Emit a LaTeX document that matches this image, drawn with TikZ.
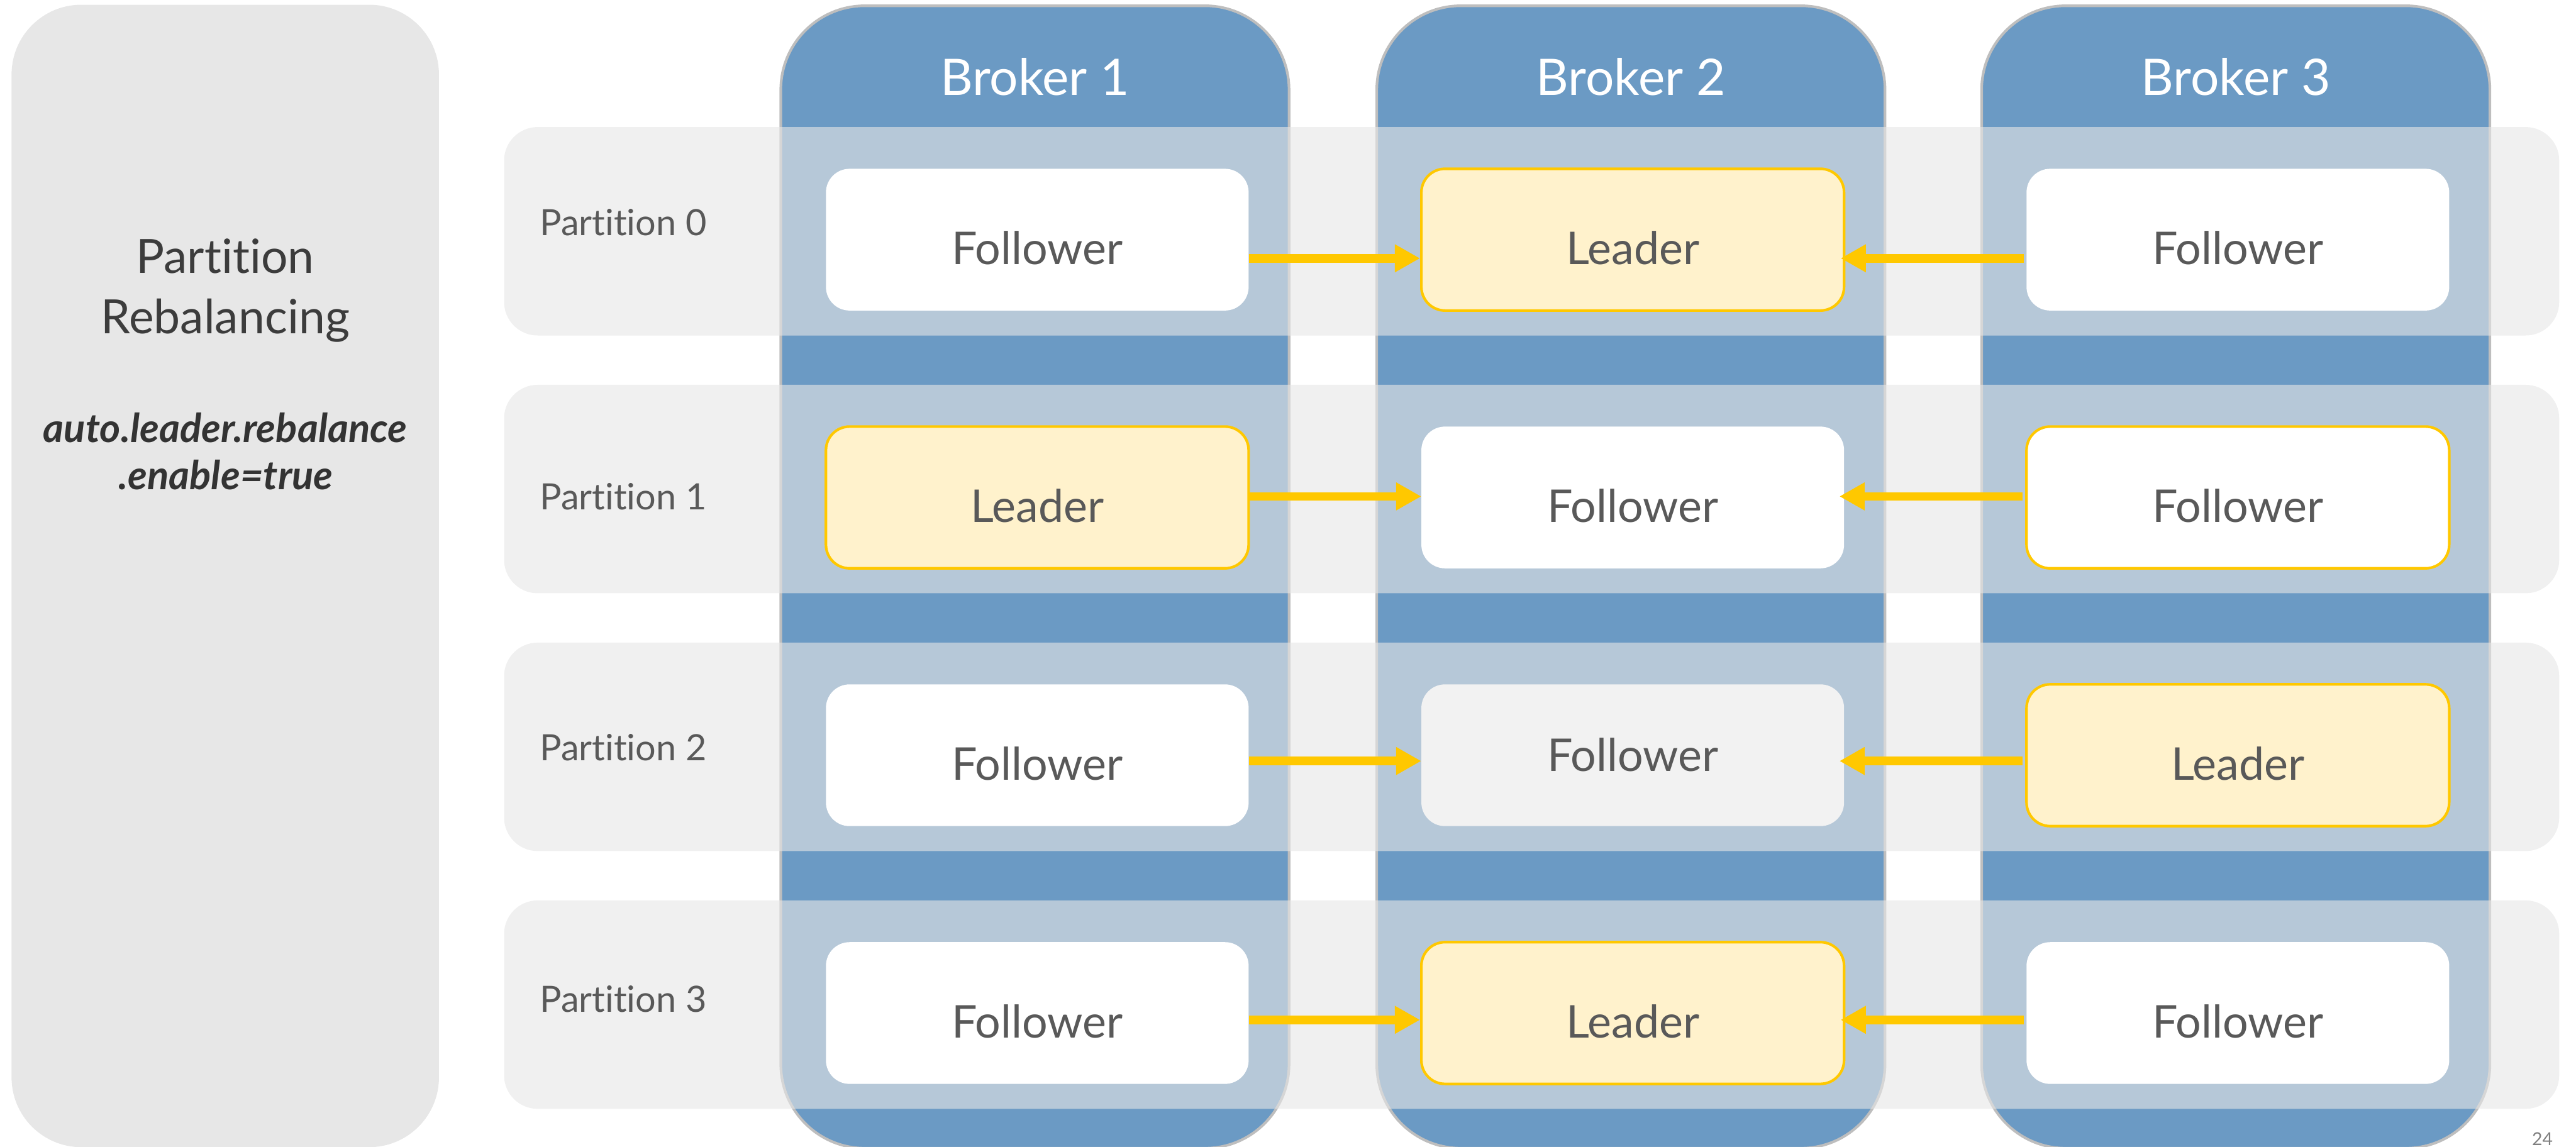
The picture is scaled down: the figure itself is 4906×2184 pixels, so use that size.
\documentclass[tikz,border=0pt]{standalone}
\usepackage{fontspec}
\setmainfont{Lato}[Ligatures={NoCommon,NoContextual}]
\usetikzlibrary{arrows.meta}

\definecolor{brokerblue}{RGB}{107,154,196}
\definecolor{brokerborder}{RGB}{190,190,190}
\definecolor{bandgray}{RGB}{230,230,230}
\definecolor{panelgray}{RGB}{231,231,231}
\definecolor{cellgray}{RGB}{242,242,242}
\definecolor{leaderfill}{RGB}{255,242,204}
\definecolor{gold}{RGB}{255,200,0}
\definecolor{textgray}{RGB}{89,89,89}
\definecolor{titlegray}{RGB}{60,60,60}
\definecolor{settinggray}{RGB}{51,51,51}
\definecolor{pagegray}{RGB}{127,127,127}

\begin{document}
\begin{tikzpicture}[x=1pt,y=-1pt,
  panel/.style={fill=panelgray, rounded corners=133pt, inner sep=0pt,
    minimum width=814pt, minimum height=2176pt},
  broker/.style={draw=brokerborder, line width=5pt, fill=brokerblue,
    rounded corners=160pt, inner sep=0pt, minimum width=968pt, minimum height=2176pt},
  band/.style={fill=bandgray, fill opacity=0.61, rounded corners=64pt, inner sep=0pt,
    minimum width=3914pt, minimum height=397pt},
  cell/.style={fill=white, rounded corners=45pt, inner sep=0pt,
    minimum width=805pt, minimum height=270pt},
  leadercell/.style={cell, fill=leaderfill, draw=gold, line width=5pt},
  ringcell/.style={cell, draw=gold, line width=5pt},
  quietcell/.style={cell, fill=cellgray},
  flow/.style={draw=gold, line width=16.5pt, -{Triangle[length=48pt,width=50pt]}},
  celltext/.style={anchor=base, inner sep=0pt, text=textgray,
    font=\fontsize{86}{100}\selectfont},
  brokertitle/.style={anchor=base, inner sep=0pt, text=white,
    font=\fontsize{96}{110}\selectfont},
  partlabel/.style={anchor=base west, inner sep=0pt, text=textgray,
    font=\fontsize{69}{80}\selectfont},
  paneltitle/.style={anchor=base, inner sep=0pt, text=titlegray,
    font=\fontsize{90}{100}\selectfont},
  setting/.style={anchor=base, inner sep=0pt, text=settinggray,
    font=\fontsize{76}{86}\selectfont\bfseries\itshape},
]
\useasboundingbox (0,0) rectangle (4906,2184);

% left side panel
\node[panel] (panel) at (429,1097) {};
\node[paneltitle] (pt1) at (429,521) {Partition};
\node[paneltitle] (pt2) at (429,635) {Rebalancing};
\node[setting] (st1) at (429,843) {auto.leader.rebalance};
\node[setting] (st2) at (430,932) {.enable=true};

% broker columns
\node[broker] (br1) at (1971,1099) {};
\node[broker] (br2) at (3106,1099) {};
\node[broker] (br3) at (4258,1099) {};
\node[brokertitle] (bt1) at (1971,182) {Broker 1};
\node[brokertitle] (bt2) at (3106,182) {Broker 2};
\node[brokertitle] (bt3) at (4258,182) {Broker 3};

% partition bands
\foreach \r in {0,1,2,3}
  \node[band] (band\r) at (2917,440.5+491*\r) {};

\node[partlabel] (pl0) at (1028,448) {Partition 0};
\node[partlabel] (pl1) at (1028,971) {Partition 1};
\node[partlabel] (pl2) at (1028,1449) {Partition 2};
\node[partlabel] (pl3) at (1028,1928) {Partition 3};

% replicas: c<broker><partition>
\node[cell]       (c10) at (1975.5,456.5) {};
\node[leadercell] (c20) at (3109.5,456.5) {};
\node[cell]       (c30) at (4262,456.5) {};

\node[leadercell] (c11) at (1975.5,947.5) {};
\node[cell]       (c21) at (3109.5,947.5) {};
\node[ringcell]   (c31) at (4262,947.5) {};

\node[cell]       (c12) at (1975.5,1438.5) {};
\node[quietcell]  (c22) at (3109.5,1438.5) {};
\node[leadercell] (c32) at (4262,1438.5) {};

\node[cell]       (c13) at (1975.5,1929.5) {};
\node[leadercell] (c23) at (3109.5,1929.5) {};
\node[cell]       (c33) at (4262,1929.5) {};

% replica labels
\node[celltext] (t10) at ([yshift=-47pt]c10.center) {Follower};
\node[celltext] (t20) at ([yshift=-47pt]c20.center) {Leader};
\node[celltext] (t30) at ([yshift=-47pt]c30.center) {Follower};
\node[celltext] (t11) at ([yshift=-47pt]c11.center) {Leader};
\node[celltext] (t21) at ([yshift=-47pt]c21.center) {Follower};
\node[celltext] (t31) at ([yshift=-47pt]c31.center) {Follower};
\node[celltext] (t12) at ([yshift=-47pt]c12.center) {Follower};
\node[celltext] (t22) at ([yshift=-31pt]c22.center) {Follower};
\node[celltext] (t32) at ([yshift=-47pt]c32.center) {Leader};
\node[celltext] (t13) at ([yshift=-47pt]c13.center) {Follower};
\node[celltext] (t23) at ([yshift=-47pt]c23.center) {Leader};
\node[celltext] (t33) at ([yshift=-47pt]c33.center) {Follower};

% replication arrows towards Broker 2
\draw[flow] ([yshift=-35.5pt]c10.east) -- ([yshift=-35.5pt]c20.west);
\draw[flow, shorten <=5pt, shorten >=-9pt] ([yshift=-35.5pt]c30.west) -- ([yshift=-35.5pt]c20.east);
\draw[flow] ([yshift=2pt]c11.east) -- ([yshift=2pt]c21.west);
\draw[flow, shorten <=5pt, shorten >=-9pt] ([yshift=2pt]c31.west) -- ([yshift=2pt]c21.east);
\draw[flow] ([yshift=-11pt]c12.east) -- ([yshift=-11pt]c22.west);
\draw[flow, shorten <=5pt, shorten >=-9pt] ([yshift=-11pt]c32.west) -- ([yshift=-11pt]c22.east);
\draw[flow] ([yshift=-13pt]c13.east) -- ([yshift=-13pt]c23.west);
\draw[flow, shorten <=5pt, shorten >=-9pt] ([yshift=-13pt]c33.west) -- ([yshift=-13pt]c23.east);

% page number
\node[anchor=base east, inner sep=0pt, text=pagegray, font=\fontsize{34}{40}\selectfont]
  (page) at (4862,2182) {24};
\end{tikzpicture}
\end{document}
